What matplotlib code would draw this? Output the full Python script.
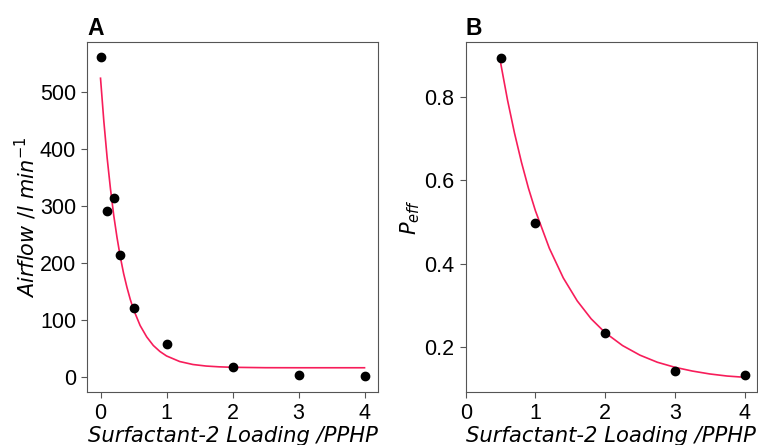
import matplotlib.pyplot as plt

# panel A: airflow vs loading
load_a = [0, 0.1, 0.2, 0.3, 0.5, 1, 2, 3, 4]
airflow = [561, 291, 315, 214, 121, 59, 18, 3.5, 2]

# fitted curve A
fit_x_a = [0, 0.05, 0.1, 0.15, 0.2, 0.25, 0.3, 0.35, 0.4, 0.45, 0.5, 0.6, 0.7, 0.8,
           0.9, 1.0, 1.2, 1.4, 1.6, 1.8, 2.0, 2.5, 3.0, 3.5, 4.0]
fit_y_a = [524, 449, 385, 331, 284, 245, 211, 182, 158, 137, 119, 91, 71, 56,
           45.5, 37.7, 27.9, 22.7, 20, 18.6, 17.8, 17.1, 17, 17, 17]

# panel B: P_eff vs loading
load_b = [0.5, 1, 2, 3, 4]
p_eff = [0.894, 0.498, 0.235, 0.144, 0.133]

fit_x_b = [0.5, 0.6, 0.7, 0.8, 0.9, 1.0, 1.2, 1.4, 1.6, 1.8, 2.0, 2.25, 2.5,
           2.75, 3.0, 3.25, 3.5, 3.75, 4.0]
fit_y_b = [0.882, 0.792, 0.713, 0.643, 0.581, 0.527, 0.437, 0.366, 0.311, 0.268,
           0.235, 0.204, 0.181, 0.164, 0.152, 0.143, 0.136, 0.131, 0.128]

line_col = '#f71d5a'
tick_font = 'Liberation Sans'
fs = 15.5

fig = plt.figure(figsize=(7.58, 4.45), dpi=100)
ax_a = fig.add_axes([0.1152, 0.1184, 0.3831, 0.7879])
ax_b = fig.add_axes([0.6144, 0.1184, 0.3839, 0.7879])

ax_a.plot(fit_x_a, fit_y_a, color=line_col, lw=1.2, zorder=2)
ax_a.scatter(load_a, airflow, color='black', s=36, zorder=3)
ax_a.set_xlim(-0.2, 4.2)
ax_a.set_ylim(-26, 588)
ax_a.set_xticks([0, 1, 2, 3, 4])
ax_a.set_yticks([0, 100, 200, 300, 400, 500])
ax_a.set_ylabel(r'$Airflow\ /l\ min^{-1}$', fontsize=15, labelpad=1)

ax_b.plot(fit_x_b, fit_y_b, color=line_col, lw=1.2, zorder=2)
ax_b.scatter(load_b, p_eff, color='black', s=36, zorder=3)
ax_b.set_xlim(0, 4.175)
ax_b.set_ylim(0.092, 0.932)
ax_b.set_xticks([0, 1, 2, 3, 4])
ax_b.set_yticks([0.2, 0.4, 0.6, 0.8])
ax_b.set_ylabel(r'$P_{eff}$', fontsize=15, labelpad=2)

for ax, letter in [(ax_a, 'A'), (ax_b, 'B')]:
    ax.set_xlabel('Surfactant-2 Loading /PPHP', fontsize=15.2, fontstyle='italic',
                  labelpad=1)
    ax.set_title(letter, loc='left', fontsize=16.5, fontweight='bold',
                 family=tick_font, pad=5)
    for s in ax.spines.values():
        s.set_color('#555555')
    ax.tick_params(colors='#555555', labelcolor='black', labelsize=fs, length=4,
                   pad=4)
    for lab in ax.get_xticklabels() + ax.get_yticklabels():
        lab.set_family(tick_font)

fig.savefig('out.png', dpi=100)
